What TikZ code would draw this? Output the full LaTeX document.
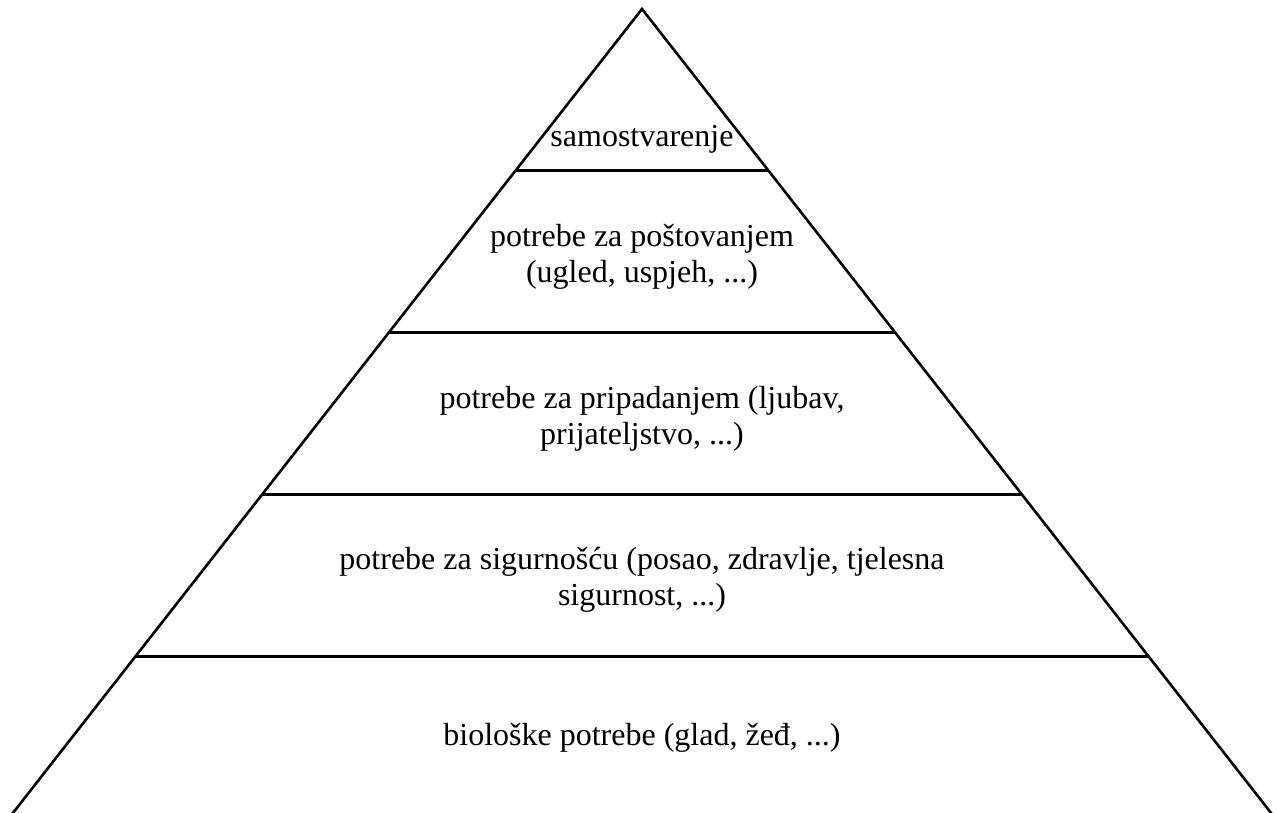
\documentclass[tikz,border=0pt]{standalone}
\usepackage{fontspec}
\setmainfont{Liberation Serif}
\usetikzlibrary{calc}
\tikzstyle{level text}=[align=center, inner sep=0pt, font=\fontsize{32}{36}\selectfont]
\tikzstyle{pyramid line}=[line width=2.6pt, line join=miter]

\begin{document}
\begin{tikzpicture}[x=1pt, y=-1pt]

\useasboundingbox (0,0) rectangle (1277,813);
\clip (0,0) rectangle (1277,813);

\coordinate (top) at (642,9);
\coordinate (base left) at (9,818);
\coordinate (base right) at (1275,818);
\draw[pyramid line] (base left) -- (top) -- (base right);
\foreach \t/\n in {0.2/1,0.4/2,0.6/3,0.8/4}
    \draw[pyramid line] ($(top)!\t!(base left)$) coordinate (step\n-west) -- ($(top)!\t!(base right)$) coordinate (step\n-east);

\node[level text, anchor=base] (l5) at (642,147) {samostvarenje};
\node[level text] (l4) at (642,257) {potrebe za poštovanjem\\(ugled, uspjeh, ...)};
\node[level text] (l3) at (642,419) {potrebe za pripadanjem (ljubav,\\prijateljstvo, ...)};
\node[level text] (l2) at (642,580) {potrebe za sigurnošću (posao, zdravlje, tjelesna\\sigurnost, ...)};
\node[level text, anchor=base] (l1) at (642,745) {biološke potrebe (glad, žeđ, ...)};

\end{tikzpicture}
\end{document}
